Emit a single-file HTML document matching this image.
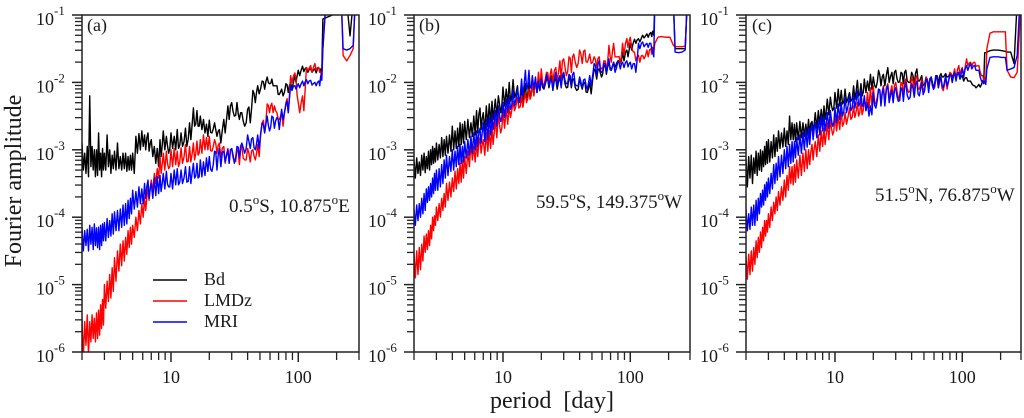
<!DOCTYPE html>
<html lang="en">
<head>
<meta charset="utf-8">
<title>Fourier amplitude vs period</title>
<style>
html,body{margin:0;padding:0;background:#fff;width:1024px;height:418px;overflow:hidden}
svg{display:block}
text{font-family:"Liberation Serif",serif;fill:#1a1a1a}
.t18{font-size:18px}
.t19{font-size:19px}
.t24{font-size:24px}
</style>
</head>
<body>
<svg id="chart" xmlns="http://www.w3.org/2000/svg" width="1024" height="418" viewBox="0 0 1024 418">
  <rect width="1024" height="418" fill="#fff"/>
  <g id="panels"></g>
  <text class="t24" transform="translate(21,181) rotate(-90)" text-anchor="middle">Fourier amplitude</text>
  <text class="t24" x="552" y="408" text-anchor="middle" xml:space="preserve">period  [day]</text>

  <text class="t18" x="87" y="31">(a)</text>
  <text class="t18" x="419" y="31">(b)</text>
  <text class="t18" x="752" y="31">(c)</text>

  <text class="t19" x="229" y="212">0.5<tspan dy="-8" font-size="13">o</tspan><tspan dy="8">S, 10.875</tspan><tspan dy="-8" font-size="13">o</tspan><tspan dy="8">E</tspan></text>
  <text class="t19" x="536" y="208">59.5<tspan dy="-8" font-size="13">o</tspan><tspan dy="8">S, 149.375</tspan><tspan dy="-8" font-size="13">o</tspan><tspan dy="8">W</tspan></text>
  <text class="t19" x="875" y="201">51.5<tspan dy="-8" font-size="13">o</tspan><tspan dy="8">N, 76.875</tspan><tspan dy="-8" font-size="13">o</tspan><tspan dy="8">W</tspan></text>

  <g>
    <line x1="153" x2="187" y1="280" y2="280" stroke="#000" stroke-width="1.6"/>
    <text class="t18" x="204" y="285">Bd</text>
    <line x1="153" x2="187" y1="301" y2="301" stroke="#f00" stroke-width="1.6"/>
    <text class="t18" x="204" y="306">LMDz</text>
    <line x1="153" x2="187" y1="322" y2="322" stroke="#00f" stroke-width="1.6"/>
    <text class="t18" x="204" y="327">MRI</text>
  </g>
</svg>
<script>
// Periods in days
const periods = [
2,2.1,2.2,2.3,2.4, 2.5,2.6,2.7,2.8,2.9,
3,3.15,3.3,3.45,3.6, 3.8,4,4.2,4.4,4.6,
4.8,5,5.3,5.6,5.9, 6.2,6.6,7,7.4,7.8,
8.2,8.7,9.2,10,10.6, 11.2,12,13,14,15,
16,17,18,19,20, 22,24,26,28,30,
33,36,40,44,48, 52,57,62,68,74,
80,87,94,100,108, 116,125,135,145,150,
156,165,175,190,205, 218,225,240,255,270, 280,290,300];

// Axis tick values
const xMajorTicks = [10,100];
const xMinorTicks = [2,3,4,5,6,7,8,9,20,30,40,50,60,70,80,90,200,300];
const yExponents = [-1,-2,-3,-4,-5,-6];
const yMinorMultipliers = [2,3,4,5,6,7,8,9];

// log10(amplitude): upper and lower edge of each noisy trace
const aBdHi = [
-2.9,-3.05,-2.95,-2.2,-2.95,-3.0,-3.0,-2.75,-3.05,-2.98,
-3.05,-2.78,-3.0,-3.08,-3.02,-2.9,-3.1,-3.05,-3.05,-3.1,
-3.08,-3.05,-2.8,-2.76,-2.72,-2.78,-2.75,-2.85,-2.95,-2.98,
-2.85,-2.72,-2.8,-2.75,-2.8,-2.7,-2.75,-2.68,-2.6,-2.38,
-2.42,-2.5,-2.55,-2.62,-2.56,-2.6,-2.7,-2.55,-2.35,-2.3,
-2.3,-2.45,-2.4,-2.12,-2.05,-1.98,-1.92,-1.95,-2.05,-2.1,
-2.02,-2.0,-1.9,-1.82,-1.76,-1.78,-1.8,-1.8,-1.78,-1.8,
-1.06,-1.04,-1.02,-.99,-.8,-.8,-.8,-.8,-1.31,-.8,-.8,-.8,-.8];
const aBdLo = [
-3.3,-3.35,-3.4,-3.25,-3.3,-3.4,-3.38,-3.3,-3.4,-3.3,
-3.3,-3.25,-3.35,-3.28,-3.3,-3.28,-3.3,-3.28,-3.32,-3.3,
-3.3,-3.35,-3.05,-3.0,-2.95,-3.0,-3.02,-3.1,-3.2,-3.25,
-3.1,-3.0,-3.05,-2.98,-3.0,-2.98,-2.95,-2.95,-2.85,-2.65,
-2.65,-2.7,-2.75,-2.8,-2.75,-2.8,-2.9,-2.75,-2.55,-2.5,
-2.55,-2.65,-2.6,-2.3,-2.17,-2.1,-2.02,-2.05,-2.18,-2.2,
-2.15,-2.1,-2.0,-1.9,-1.84,-1.85,-1.85,-1.86,-1.85,-1.84];
const aLmdzHi = [
-5.5,-5.55,-5.45,-5.55,-5.45,-5.5,-5.42,-5.38,-5.3,-5.22,
-5.0,-4.95,-4.85,-4.75,-4.6,-4.5,-4.4,-4.35,-4.3,-4.2,
-4.15,-4.12,-4.0,-3.9,-3.8,-3.7,-3.55,-3.45,-3.35,-3.28,
-3.1,-3.05,-3.02,-3.0,-2.98,-3.02,-2.97,-2.92,-2.95,-2.9,
-2.87,-2.85,-2.78,-2.82,-2.8,-2.85,-2.9,-2.95,-2.98,-3.0,
-3.0,-2.95,-2.98,-3.0,-2.92,-2.6,-2.32,-2.31,-2.45,-2.45,
-2.3,-1.9,-1.86,-2.3,-2.2,-1.78,-1.75,-1.72,-1.78,-1.85,
-1.5,-.8,-.8,-.8,-.8,-.8,-1.6,-1.68,-1.6,-1.5,-.8,-.8,-.8];
const aLmdzLo = [
-6.1,-5.9,-6.05,-5.85,-5.8,-5.85,-5.8,-5.75,-5.65,-5.6,
-5.35,-5.25,-5.2,-5.1,-4.95,-4.8,-4.72,-4.65,-4.55,-4.45,
-4.4,-4.3,-4.2,-4.1,-4.0,-3.9,-3.75,-3.62,-3.5,-3.42,
-3.35,-3.3,-3.28,-3.25,-3.22,-3.25,-3.2,-3.18,-3.18,-3.15,
-3.08,-3.05,-3.0,-3.0,-3.02,-3.05,-3.12,-3.2,-3.2,-3.18,
-3.22,-3.15,-3.18,-3.15,-3.1,-2.75,-2.45,-2.35,-2.55,-2.65,
-2.45,-2.0,-1.95,-2.45,-2.42,-1.82,-1.85,-1.82,-1.85,-1.95];
const aMriHi = [
-4.15,-4.2,-4.18,-4.12,-4.15,-4.1,-4.16,-4.15,-4.12,-4.1,
-4.08,-4.02,-4.05,-3.95,-3.92,-3.9,-3.88,-3.82,-3.8,-3.75,
-3.72,-3.6,-3.62,-3.55,-3.58,-3.5,-3.45,-3.5,-3.42,-3.4,
-3.38,-3.35,-3.32,-3.35,-3.3,-3.28,-3.3,-3.25,-3.25,-3.2,
-3.2,-3.15,-3.18,-3.12,-3.1,-3.02,-2.98,-3.02,-3.0,-2.98,
-2.95,-2.9,-2.78,-2.82,-2.78,-2.6,-2.5,-2.5,-2.52,-2.4,
-2.32,-2.05,-2.05,-2.02,-1.98,-1.96,-1.97,-2.0,-1.98,-1.9,
-1.5,-.8,-.8,-.8,-.8,-.8,-1.5,-1.52,-1.5,-1.45,-.8,-.8,-.8];
const aMriLo = [
-4.5,-4.42,-4.5,-4.4,-4.48,-4.42,-4.45,-4.48,-4.42,-4.35,
-4.35,-4.3,-4.28,-4.25,-4.2,-4.2,-4.15,-4.12,-4.1,-4.02,
-3.95,-3.88,-3.85,-3.8,-3.8,-3.72,-3.72,-3.72,-3.68,-3.65,
-3.62,-3.58,-3.55,-3.58,-3.52,-3.52,-3.5,-3.48,-3.5,-3.42,
-3.42,-3.4,-3.38,-3.32,-3.32,-3.3,-3.25,-3.18,-3.2,-3.2,
-3.12,-3.05,-2.98,-3.0,-2.98,-2.75,-2.72,-2.68,-2.7,-2.55,
-2.45,-2.12,-2.1,-2.08,-2.05,-2.02,-2.04,-2.05,-2.05,-1.97];

const bBdHi = [
-3.15,-3.12,-3.18,-3.08,-3.05,-3.1,-3.02,-3.0,-2.95,-2.98,
-2.9,-2.92,-2.82,-2.85,-2.8,-2.78,-2.65,-2.72,-2.68,-2.6,
-2.62,-2.58,-2.55,-2.6,-2.5,-2.42,-2.38,-2.45,-2.35,-2.32,
-2.28,-2.25,-2.2,-2.07,-2.1,-2.0,-1.96,-2.05,-2.1,-2.02,
-2.0,-1.98,-1.95,-2.0,-1.92,-1.95,-1.9,-1.95,-1.92,-1.9,
-1.92,-1.95,-1.95,-2.0,-2.0,-1.8,-1.8,-1.75,-1.72,-1.7,
-1.68,-1.55,-1.52,-1.42,-1.36,-1.35,-1.3,-1.28,-1.26,-1.24,
-.8,-.8,-.8,-.8,-.8,-.8,-1.5,-1.5,-1.5,-1.5,-.8,-.8,-.8];
const bBdLo = [
-3.42,-3.35,-3.38,-3.3,-3.34,-3.28,-3.3,-3.22,-3.2,-3.18,
-3.15,-3.12,-3.1,-3.08,-3.05,-3.02,-3.0,-2.98,-2.95,-2.92,
-2.9,-2.85,-2.82,-2.8,-2.78,-2.75,-2.7,-2.72,-2.65,-2.6,
-2.55,-2.5,-2.45,-2.35,-2.32,-2.28,-2.22,-2.3,-2.35,-2.25,
-2.2,-2.18,-2.15,-2.12,-2.1,-2.08,-2.12,-2.1,-2.05,-2.08,
-2.08,-2.12,-2.1,-2.15,-2.17,-1.95,-1.92,-1.88,-1.82,-1.78,
-1.72,-1.68,-1.62,-1.52,-1.42,-1.4,-1.34,-1.33,-1.32,-1.3];
const bLmdzHi = [
-4.55,-4.5,-4.45,-4.4,-4.28,-4.25,-4.2,-4.12,-4.0,-3.98,
-3.85,-3.8,-3.72,-3.65,-3.5,-3.48,-3.42,-3.32,-3.28,-3.2,
-3.15,-3.1,-3.02,-2.9,-2.95,-2.88,-2.82,-2.85,-2.75,-2.72,
-2.65,-2.55,-2.45,-2.42,-2.38,-2.35,-2.28,-2.22,-2.2,-2.15,
-2.1,-2.0,-1.95,-1.85,-1.8,-1.85,-1.8,-1.78,-1.68,-1.65,
-1.62,-1.58,-1.52,-1.52,-1.58,-1.62,-1.62,-1.68,-1.45,-1.42,
-1.62,-1.42,-1.35,-1.33,-1.55,-1.6,-1.6,-1.52,-1.5,-1.48,
-1.42,-1.33,-1.32,-1.33,-1.33,-1.45,-1.47,-1.47,-1.47,-1.46,-.8,-.8,-.8];
const bLmdzLo = [
-4.9,-4.85,-4.78,-4.65,-4.52,-4.48,-4.42,-4.32,-4.2,-4.12,
-4.05,-4.0,-3.9,-3.85,-3.75,-3.7,-3.62,-3.58,-3.5,-3.48,
-3.42,-3.35,-3.25,-3.15,-3.18,-3.1,-3.05,-3.08,-3.02,-2.98,
-2.92,-2.82,-2.75,-2.68,-2.62,-2.52,-2.42,-2.38,-2.37,-2.3,
-2.25,-2.2,-2.12,-2.08,-2.05,-2.02,-2.0,-1.98,-1.95,-1.9,
-1.85,-1.78,-1.72,-1.7,-1.72,-1.78,-1.8,-1.82,-1.7,-1.62,
-1.72,-1.6,-1.48,-1.48,-1.68,-1.7,-1.65,-1.62,-1.58,-1.55];
const bMriHi = [
-3.88,-3.82,-3.8,-3.72,-3.65,-3.58,-3.55,-3.5,-3.42,-3.35,
-3.3,-3.28,-3.22,-3.15,-3.08,-3.1,-3.0,-3.02,-2.95,-2.92,
-2.95,-2.88,-2.85,-2.8,-2.75,-2.72,-2.68,-2.6,-2.55,-2.52,
-2.48,-2.42,-2.35,-2.3,-2.25,-2.2,-2.12,-2.1,-1.95,-1.82,
-1.82,-1.9,-1.92,-1.98,-1.95,-1.88,-1.95,-1.85,-1.9,-1.85,
-1.88,-1.85,-1.92,-1.95,-1.9,-1.72,-1.68,-1.72,-1.65,-1.7,
-1.68,-1.7,-1.68,-1.7,-1.72,-1.42,-1.4,-1.42,-1.42,-1.55,
-.8,-.8,-.8,-.8,-.8,-.8,-1.55,-1.56,-1.55,-1.52,-.8,-.8,-.8];
const bMriLo = [
-4.12,-4.05,-4.0,-3.95,-3.9,-3.78,-3.75,-3.7,-3.65,-3.6,
-3.6,-3.55,-3.5,-3.42,-3.38,-3.32,-3.3,-3.25,-3.22,-3.2,
-3.18,-3.12,-3.08,-3.05,-3.0,-2.95,-2.9,-2.88,-2.85,-2.78,
-2.7,-2.65,-2.58,-2.52,-2.45,-2.4,-2.35,-2.3,-2.2,-2.1,
-2.08,-2.1,-2.15,-2.12,-2.08,-2.05,-2.1,-2.05,-2.08,-2.02,
-2.05,-2.05,-2.08,-2.1,-2.05,-1.9,-1.85,-1.85,-1.82,-1.85,
-1.8,-1.78,-1.77,-1.8,-1.85,-1.5,-1.47,-1.48,-1.5,-1.62];

const cBdHi = [
-3.12,-3.1,-3.08,-3.12,-3.02,-3.05,-3.0,-3.02,-2.95,-2.88,
-2.85,-2.88,-2.78,-2.82,-2.72,-2.75,-2.68,-2.72,-2.5,-2.6,
-2.62,-2.6,-2.58,-2.6,-2.62,-2.55,-2.58,-2.45,-2.42,-2.4,
-2.35,-2.25,-2.22,-2.15,-2.1,-2.12,-2.1,-2.15,-2.05,-1.97,
-2.02,-1.95,-1.98,-1.88,-1.92,-1.82,-1.88,-1.78,-1.85,-1.82,
-1.85,-1.82,-1.85,-1.8,-1.9,-1.92,-1.92,-1.9,-1.87,-1.87,
-1.86,-1.86,-1.88,-1.9,-1.93,-1.98,-2.05,-2.03,-1.97,-1.56,
-1.55,-1.53,-1.52,-1.52,-1.53,-1.54,-1.55,-1.55,-1.72,-.8,-.8,-.8,-.8];
const cBdLo = [
-3.55,-3.42,-3.5,-3.35,-3.38,-3.3,-3.32,-3.25,-3.22,-3.2,
-3.18,-3.12,-3.1,-3.02,-2.98,-2.96,-2.95,-2.92,-2.85,-2.85,
-2.88,-2.85,-2.82,-2.8,-2.78,-2.78,-2.72,-2.68,-2.62,-2.6,
-2.55,-2.48,-2.42,-2.38,-2.35,-2.32,-2.3,-2.28,-2.25,-2.2,
-2.2,-2.15,-2.12,-2.1,-2.08,-2.05,-2.05,-2.0,-2.02,-2.0,
-2.02,-2.0,-2.02,-1.98,-2.05,-2.08,-2.1,-2.02,-1.92,-1.92,
-1.92,-1.92,-1.95,-1.98,-1.98,-2.02,-2.08,-2.07,-2.0,-1.56];
const cLmdzHi = [
-4.58,-4.55,-4.5,-4.45,-4.35,-4.3,-4.22,-4.15,-4.05,-4.05,
-3.95,-3.85,-3.78,-3.7,-3.62,-3.55,-3.45,-3.38,-3.25,-3.25,
-3.22,-3.15,-3.08,-3.05,-3.0,-3.0,-2.92,-2.88,-2.78,-2.72,
-2.68,-2.6,-2.55,-2.5,-2.5,-2.42,-2.45,-2.38,-2.35,-2.3,
-2.25,-2.2,-2.15,-2.08,-2.05,-2.1,-2.05,-2.02,-2.05,-2.0,
-2.0,-1.95,-1.92,-1.9,-1.95,-1.92,-1.95,-1.93,-1.95,-1.92,
-1.85,-1.8,-1.75,-1.78,-1.65,-1.7,-1.7,-1.75,-1.9,-1.93,
-1.5,-1.27,-1.25,-1.25,-1.25,-1.25,-1.82,-1.92,-1.93,-1.85,-1.3,-.8,-.8];
const cLmdzLo = [
-4.92,-4.85,-4.8,-4.7,-4.6,-4.52,-4.45,-4.35,-4.28,-4.22,
-4.15,-4.05,-3.95,-3.9,-3.82,-3.75,-3.7,-3.6,-3.5,-3.52,
-3.48,-3.42,-3.38,-3.32,-3.28,-3.22,-3.15,-3.1,-3.02,-2.95,
-2.92,-2.85,-2.78,-2.72,-2.7,-2.65,-2.62,-2.55,-2.52,-2.5,
-2.48,-2.42,-2.38,-2.35,-2.32,-2.3,-2.28,-2.25,-2.28,-2.25,
-2.2,-2.15,-2.12,-2.1,-2.12,-2.12,-2.1,-2.08,-2.12,-2.1,
-2.0,-1.95,-1.9,-1.9,-1.75,-1.75,-1.76,-1.85,-1.97,-1.98];
const cMriHi = [
-3.88,-3.95,-3.85,-3.82,-3.75,-3.72,-3.65,-3.6,-3.52,-3.48,
-3.42,-3.35,-3.22,-3.2,-3.1,-3.08,-3.0,-2.95,-2.92,-2.88,
-2.88,-2.82,-2.78,-2.75,-2.7,-2.68,-2.62,-2.6,-2.55,-2.5,
-2.5,-2.45,-2.42,-2.38,-2.32,-2.3,-2.22,-2.2,-2.18,-2.12,
-2.12,-2.2,-2.3,-2.35,-2.15,-2.1,-2.08,-2.05,-2.12,-2.08,
-2.08,-2.0,-2.02,-1.98,-2.0,-1.95,-1.92,-1.9,-1.92,-1.9,
-1.88,-1.85,-1.85,-1.8,-1.75,-1.72,-1.75,-1.82,-1.98,-1.98,
-1.8,-1.63,-1.62,-1.62,-1.63,-1.63,-1.82,-1.8,-1.78,-1.6,-1.0,-.8,-.8];
const cMriLo = [
-4.2,-4.18,-4.12,-4.12,-4.05,-3.95,-3.85,-3.82,-3.75,-3.7,
-3.65,-3.58,-3.5,-3.45,-3.4,-3.35,-3.28,-3.25,-3.2,-3.18,
-3.12,-3.08,-3.05,-3.0,-2.96,-2.92,-2.85,-2.82,-2.78,-2.72,
-2.72,-2.68,-2.65,-2.6,-2.55,-2.5,-2.45,-2.42,-2.38,-2.35,
-2.35,-2.42,-2.5,-2.48,-2.38,-2.35,-2.35,-2.3,-2.3,-2.28,
-2.28,-2.25,-2.22,-2.2,-2.18,-2.15,-2.1,-2.08,-2.08,-2.05,
-2.0,-1.98,-1.95,-1.92,-1.82,-1.8,-1.82,-1.92,-2.02,-2.03];

// Line texture: where the pen sits between a trace's upper (0) and lower (1) edge
const penTexture = [0,.85,.2,1,.35,.7,.1,.95,.3,.6,.05,.8,.25,1,.15,.75,.4,.9,0,.65,.3,.95,.12,.55];

const SVG_NS = 'http://www.w3.org/2000/svg';
const AXIS_COLOR = '#222';
const panelLayouts = [
  {id:'a', left:82,  right:359,  series:[['bd',aBdHi,aBdLo,'#000'],['lmdz',aLmdzHi,aLmdzLo,'#f00'],['mri',aMriHi,aMriLo,'#00f']]},
  {id:'b', left:414, right:690,  series:[['bd',bBdHi,bBdLo,'#000'],['lmdz',bLmdzHi,bLmdzLo,'#f00'],['mri',bMriHi,bMriLo,'#00f']]},
  {id:'c', left:746, right:1021, series:[['bd',cBdHi,cBdLo,'#000'],['lmdz',cLmdzHi,cLmdzLo,'#f00'],['mri',cMriHi,cMriLo,'#00f']]}
];
const plotTop = 15, plotBottom = 352;
const decadePx = 127.3;
const penStepPx = 1.3;

function yScale(logValue){
  return plotTop + (-1 - logValue) * (plotBottom - plotTop) / 5;
}
function xScaleFor(left){
  return function(period){
    return left + decadePx * Math.log10(period / 2);
  };
}
function make(tag, attrs){
  const el = document.createElementNS(SVG_NS, tag);
  for (const k in attrs) el.setAttribute(k, attrs[k]);
  return el;
}
function tracePath(hi, lo, xScale){
  let d = '';
  let pen = 0;
  for (let i = 0; i < periods.length; i++) {
    const x0 = xScale(periods[i]);
    d += (i ? 'L' : 'M') + x0.toFixed(2) + ' ' + yScale(hi[i]).toFixed(2);
    if (i >= lo.length || i + 1 >= periods.length) continue;
    const x1 = xScale(periods[i + 1]);
    const steps = Math.max(2, Math.round((x1 - x0) / penStepPx));
    if (i + 1 >= lo.length) {
      d += 'L' + ((x0 + x1) / 2).toFixed(2) + ' ' + yScale(lo[i]).toFixed(2);
      continue;
    }
    // Spikes stay narrow: between samples the pen keeps inside the tighter edges
    const upper = Math.min(hi[i], hi[i + 1]);
    const lower = Math.max(lo[i], lo[i + 1]);
    for (let k = 1; k < steps; k++) {
      const f = penTexture[pen++ % penTexture.length];
      const v = k === Math.floor(steps / 2) ? lo[i] : upper + (lower - upper) * f;
      d += 'L' + (x0 + (x1 - x0) * k / steps).toFixed(2) + ' ' + yScale(v).toFixed(2);
    }
  }
  return d;
}

const root = document.getElementById('panels');
panelLayouts.forEach(function(panel){
  const xScale = xScaleFor(panel.left);
  const group = make('g', {});
  
  
  root.appendChild(group);

  const clip = make('clipPath', {id:'clip-' + panel.id});
  clip.appendChild(make('rect', {x:panel.left, y:plotTop, width:panel.right - panel.left, height:plotBottom - plotTop}));
  group.appendChild(clip);

  const seriesGroup = make('g', {'clip-path':'url(#clip-' + panel.id + ')'});
  
  
  group.appendChild(seriesGroup);

  panel.series.forEach(function(s){
    const path = make('path', {d:tracePath(s[1], s[2], xScale), fill:'none', stroke:s[3], 'stroke-width':1.4, 'stroke-linejoin':'round'});
    
    
    seriesGroup.appendChild(path);
  });

  const frame = make('rect', {x:panel.left, y:plotTop, width:panel.right - panel.left, height:plotBottom - plotTop, fill:'none', stroke:AXIS_COLOR, 'stroke-width':1.5});
  
  
  group.appendChild(frame);

  // y axis
  yExponents.forEach(function(exp){
    const y = yScale(exp);
    const tick = make('line', {x1:panel.left - 10, x2:panel.left, y1:y, y2:y, stroke:AXIS_COLOR, 'stroke-width':1.5});
    
    
    group.appendChild(tick);

    const label = make('text', {x:panel.left - 46, y:y + 10, 'font-size':18});
    
    
    label.appendChild(document.createTextNode('10'));
    const sup = make('tspan', {dy:-10, 'font-size':13});
    sup.textContent = String(exp);
    label.appendChild(sup);
    group.appendChild(label);

    if (exp > -6) {
      yMinorMultipliers.forEach(function(m){
        const ym = yScale(exp - 1 + Math.log10(m));
        const minor = make('line', {x1:panel.left - 7, x2:panel.left, y1:ym, y2:ym, stroke:AXIS_COLOR, 'stroke-width':1.3});
        
        
        group.appendChild(minor);
      });
    }
  });

  // x axis
  xMajorTicks.forEach(function(v){
    const x = xScale(v);
    const tick = make('line', {x1:x, x2:x, y1:plotBottom, y2:plotBottom + 10, stroke:AXIS_COLOR, 'stroke-width':1.5});
    
    
    group.appendChild(tick);

    const label = make('text', {x:x, y:383, 'font-size':18, 'text-anchor':'middle'});
    
    
    label.textContent = String(v);
    group.appendChild(label);
  });
  xMinorTicks.forEach(function(v){
    const x = Math.min(xScale(v), panel.right);
    const minor = make('line', {x1:x, x2:x, y1:plotBottom, y2:plotBottom + 8, stroke:AXIS_COLOR, 'stroke-width':1.3});
    
    
    group.appendChild(minor);
  });
});
</script>
</body>
</html>
